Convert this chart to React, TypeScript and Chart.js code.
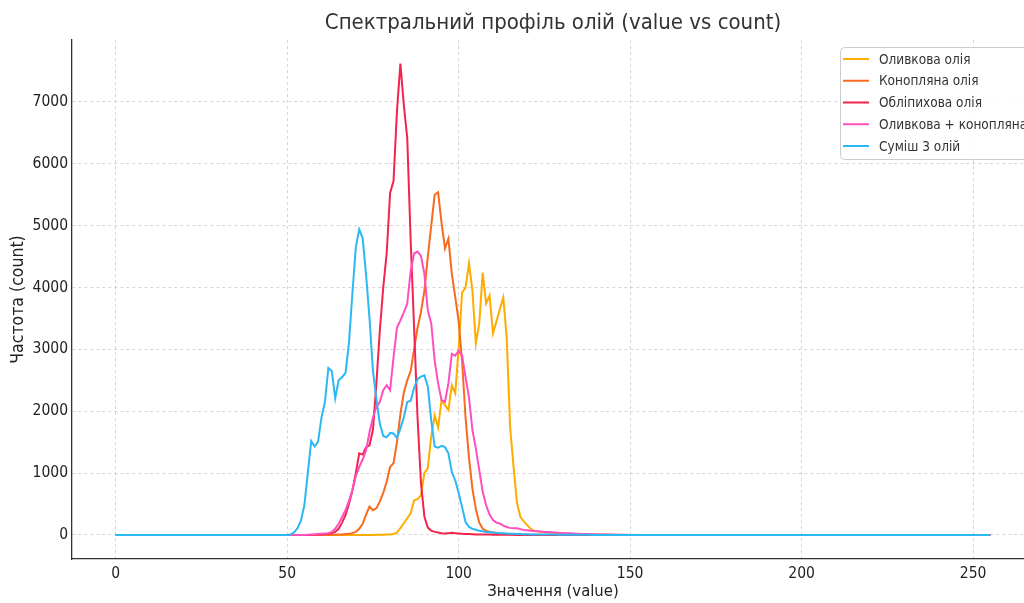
import React, { useEffect, useRef } from "react";
import { Chart, registerables } from "chart.js";

Chart.register(...registerables);

// Value axis: 0..255 (histogram bins)
const N_VALUES = 256;
const X_TICKS = [0, 50, 100, 150, 200, 250];
const Y_TICKS = [0, 1000, 2000, 3000, 4000, 5000, 6000, 7000];

const TITLE = "Спектральний профіль олій (value vs count)";
const X_LABEL = "Значення (value)";
const Y_LABEL = "Частота (count)";

const SERIES_NAMES = [
  "Оливкова олія",
  "Конопляна олія",
  "Обліпихова олія",
  "Оливкова + конопляна олія",
  "Суміш 3 олій",
];

// Each series: counts starting at a given value; everything else is 0
const OLIVE_START = 76;
const OLIVE = [
  3, 5, 5, 8, 10, 15, 40, 110, 190, 270, 350, 560, 580, 640, 1000, 1080,
  1600, 1930, 1740, 2180, 2100, 2020, 2420, 2290, 3030, 3920, 4000, 4390,
  3950, 3100, 3420, 4240, 3740, 3870, 3260, 3450, 3650, 3840, 3190, 1740,
  1100, 520, 290, 220, 160, 100, 70, 60, 50, 45, 40, 35, 32, 30, 28, 25, 22,
  20, 18, 16, 14, 12, 11, 10, 9, 8, 7, 6, 5, 4, 3, 2, 1,
];

const HEMP_START = 62;
const HEMP = [
  3, 5, 5, 8, 10, 15, 20, 30, 50, 100, 180, 330, 460, 400, 430, 540, 680,
  860, 1100, 1160, 1500, 1950, 2300, 2500, 2650, 3000, 3350, 3600, 3950,
  4500, 5000, 5500, 5540, 5050, 4630, 4790, 4220, 3850, 3450, 2800, 1900,
  1250, 750, 420, 200, 100, 70, 50, 40, 30, 25, 20, 16, 12, 10, 8, 6, 5, 4,
  3, 2, 2, 1,
];

const BUCKTHORN_START = 58;
const BUCKTHORN = [
  5, 8, 10, 15, 20, 30, 50, 100, 200, 320, 500, 720, 1000, 1320, 1300, 1420,
  1450, 1700, 2450, 3300, 4000, 4550, 5530, 5720, 6850, 7620, 6950, 6420,
  4760, 3350, 1900, 840, 300, 120, 70, 50, 40, 30, 25, 30, 35, 30, 25, 20,
  18, 15, 12, 10, 9, 8, 7, 6, 5, 4, 4, 3, 3, 2, 2, 1, 1, 1, 1,
];

const OLIVE_HEMP_START = 56;
const OLIVE_HEMP = [
  5, 8, 10, 15, 20, 25, 30, 50, 100, 180, 290, 400, 550, 720, 950, 1100,
  1220, 1370, 1660, 1900, 2070, 2150, 2340, 2420, 2340, 2870, 3350, 3470,
  3600, 3740, 4270, 4550, 4580, 4510, 4220, 3630, 3420, 2820, 2450, 2180,
  2150, 2450, 2930, 2900, 2980, 2900, 2550, 2230, 1700, 1400, 1050, 700,
  480, 330, 240, 200, 185, 150, 130, 115, 110, 110, 95, 80, 75, 70, 65, 60,
  55, 50, 50, 45, 40, 35, 32, 30, 27, 25, 22, 20, 18, 16, 15, 13, 12, 10, 9,
  8, 7, 6, 5, 4, 3, 2, 1,
];

const MIX3_START = 50;
const MIX3 = [
  0, 10, 40, 110, 230, 480, 1000, 1520, 1430, 1510, 1900, 2150, 2700, 2650,
  2210, 2500, 2550, 2620, 3100, 3900, 4650, 4940, 4800, 4200, 3500, 2650,
  2200, 1800, 1600, 1580, 1650, 1640, 1570, 1720, 1900, 2150, 2170, 2380,
  2520, 2560, 2580, 2400, 1850, 1430, 1410, 1440, 1420, 1320, 1020, 880,
  680, 450, 210, 130, 100, 85, 70, 60, 50, 45, 40, 35, 30, 28, 25, 22, 20,
  18, 16, 14, 12, 10, 10, 9, 8, 8, 7, 6, 6, 5, 5, 4, 4, 3, 3, 3, 2, 2, 2, 1,
  1,
];

const COLORS = ["#ffac00", "#f86a1e", "#f3234c", "#ff4fbe", "#2bb8f4"];

const FONT = '"DejaVu Sans Condensed", "Liberation Sans Narrow", "DejaVu Sans", sans-serif';

function toPoints(start: number, counts: number[]) {
  const pts: { x: number; y: number }[] = [];
  for (let v = 0; v < N_VALUES; v++) {
    const i = v - start;
    pts.push({ x: v, y: i >= 0 && i < counts.length ? counts[i] : 0 });
  }
  return pts;
}

const overlayPlugin = {
  id: "overlay",
  afterDraw(chart: any) {
    const { ctx, chartArea } = chart;
    ctx.save();
    // Title centred over the plotting area
    ctx.fillStyle = "#333333";
    ctx.font = `22px ${FONT}`;
    ctx.textAlign = "center";
    ctx.textBaseline = "middle";
    ctx.fillText(TITLE, (chartArea.left + chartArea.right) / 2, 23);

    // Legend box in the upper right corner
    const bx = 840, by = 47, bw = 240, bh = 112;
    ctx.fillStyle = "rgba(255,255,255,0.85)";
    ctx.strokeStyle = "#cccccc";
    ctx.lineWidth = 1;
    ctx.beginPath();
    (ctx as any).roundRect(bx + 0.5, by + 0.5, bw, bh, 4);
    ctx.fill();
    ctx.stroke();
    ctx.font = `13.5px ${FONT}`;
    ctx.textAlign = "left";
    SERIES_NAMES.forEach((name, i) => {
      const y = by + 12 + i * 21.75;
      ctx.strokeStyle = COLORS[i];
      ctx.lineWidth = 2;
      ctx.beginPath();
      ctx.moveTo(843, y);
      ctx.lineTo(869, y);
      ctx.stroke();
      ctx.fillStyle = "#333333";
      ctx.fillText(name, 879, y + 1);
    });
    ctx.restore();
  },
};

export default function App() {
  const canvasRef = useRef<HTMLCanvasElement | null>(null);

  useEffect(() => {
    if (!canvasRef.current) return;
    const starts = [OLIVE_START, HEMP_START, BUCKTHORN_START, OLIVE_HEMP_START, MIX3_START];
    const values = [OLIVE, HEMP, BUCKTHORN, OLIVE_HEMP, MIX3];
    const datasets = SERIES_NAMES.map((name, i) => ({
      label: name,
      data: toPoints(starts[i], values[i]),
      borderColor: COLORS[i],
      backgroundColor: COLORS[i],
      borderWidth: 2,
      pointRadius: 0,
      tension: 0,
      fill: false,
      order: SERIES_NAMES.length - i,
    }));

    const gridCommon = {
      color: "#cccccc",
      lineWidth: 0.8,
      drawTicks: false,
    };
    const borderCommon = { display: true, color: "#333333", width: 1.3, dash: [3, 3] };

    const chart = new Chart(canvasRef.current, {
      type: "line",
      data: { datasets },
      plugins: [overlayPlugin],
      options: {
        animation: false,
        responsive: false,
        maintainAspectRatio: false,
        layout: { padding: { top: 40, right: 6, left: 0, bottom: 0 } },
        plugins: {
          legend: { display: false },
          title: { display: false },
          tooltip: { enabled: false },
        },
        scales: {
          x: {
            type: "linear",
            min: -12.75,
            max: 267.75,
            afterBuildTicks: (scale: any) => {
              scale.ticks = X_TICKS.map((v) => ({ value: v }));
            },
            afterFit: (scale: any) => {
              scale.height = 44;
            },
            grid: gridCommon,
            border: borderCommon,
            ticks: {
              color: "#222222",
              font: { family: FONT, size: 15.5 },
              padding: 6,
              maxRotation: 0,
            },
            title: {
              display: true,
              text: X_LABEL,
              color: "#222222",
              font: { family: FONT, size: 16.5 },
              padding: { top: 0, bottom: 1 },
            },
          },
          y: {
            type: "linear",
            min: -388,
            max: 8001,
            afterBuildTicks: (scale: any) => {
              scale.ticks = Y_TICKS.map((v) => ({ value: v }));
            },
            afterFit: (scale: any) => {
              scale.width = 72;
            },
            grid: gridCommon,
            border: borderCommon,
            ticks: {
              color: "#222222",
              font: { family: FONT, size: 15.5 },
              padding: 4,
              callback: (v: any) => String(v),
            },
            title: {
              display: true,
              text: Y_LABEL,
              color: "#222222",
              font: { family: FONT, size: 17.5 },
              padding: { top: 8, bottom: 0 },
            },
          },
        },
      },
    } as any);

    return () => chart.destroy();
  }, []);

  return (
    <div
      style={{
        position: "fixed",
        left: 0,
        top: 0,
        width: 1024,
        height: 603,
        overflow: "hidden",
        background: "#ffffff",
      }}
    >
      <canvas ref={canvasRef} width={1040} height={603} style={{ display: "block" }} />
    </div>
  );
}
